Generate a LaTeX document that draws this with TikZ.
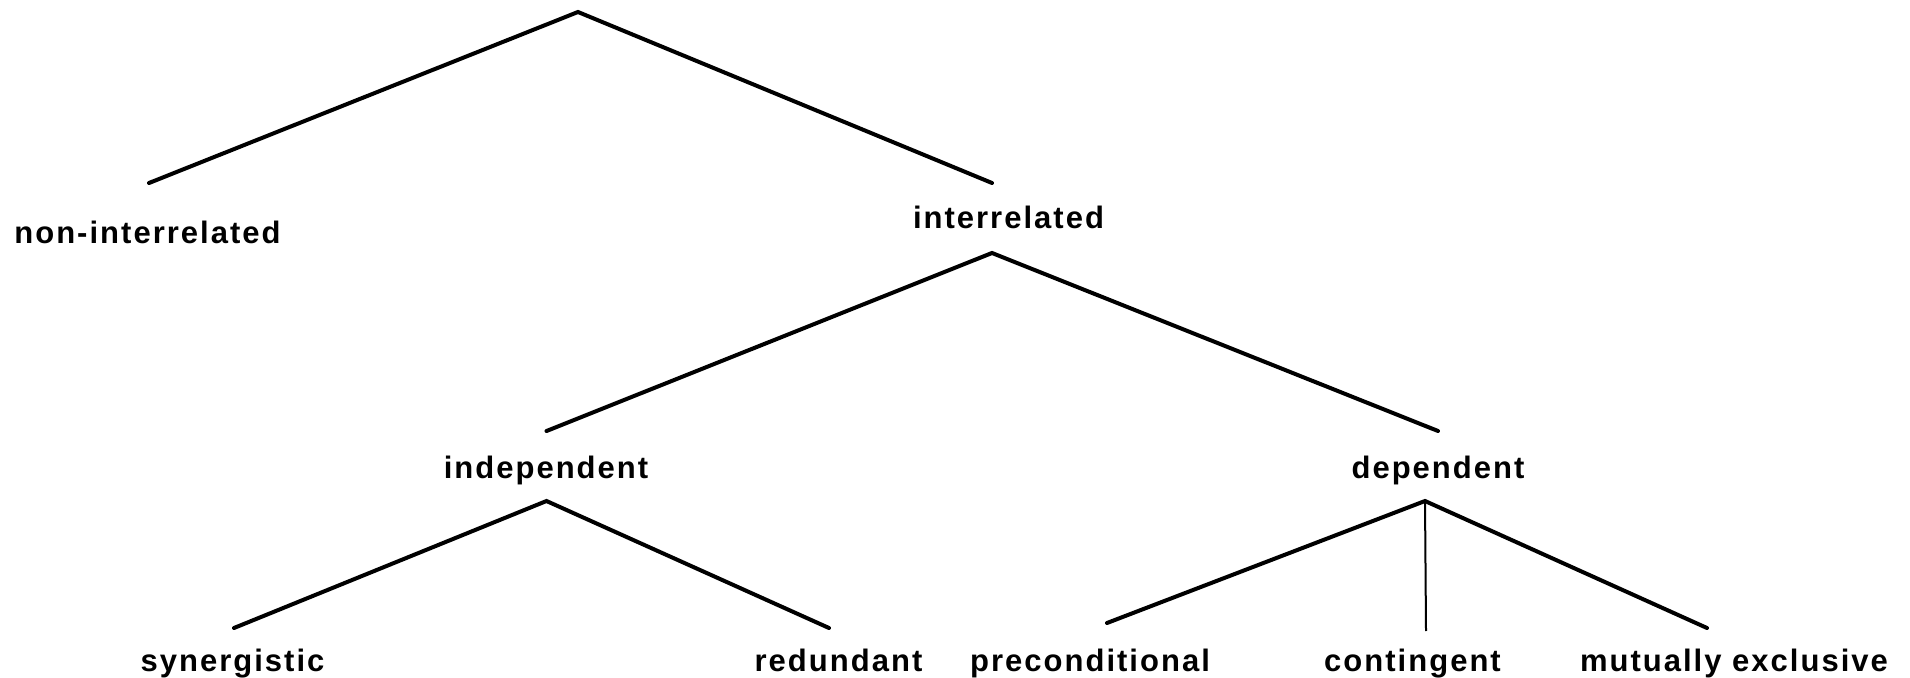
\documentclass[tikz,border=0pt]{standalone}
\usepackage{fontspec}
\newfontfamily\treefont[LetterSpace=6.5]{Liberation Sans}
\tikzset{
  lbl/.style={anchor=base,inner sep=0pt,font=\treefont\bfseries\fontsize{15.5}{18}\selectfont},
  branch/.style={line width=2pt,line cap=round},
  thinbranch/.style={line width=1pt}
}
\begin{document}
\begin{tikzpicture}[x=0.5pt,y=-0.5pt]
      \useasboundingbox (0,0) rectangle (1910,678);
      \draw
        (147.5,244) node[lbl] (nonint){non-interrelated}
        (1008.5,229) node[lbl] (inter){interrelated}
        (546,478) node[lbl] (indep){independent}
        (1438,478) node[lbl] (dep){dependent}
        (232.5,671) node[lbl] (syn){synergistic}
        (838.5,671) node[lbl] (red){redundant}
        (1090,671) node[lbl] (pre){preconditional}
        (1412.5,671) node[lbl] (cont){contingent}
        (1734,671) node[lbl] (mutex){mutually exclusive};
      \coordinate (root) at (578,12);
      \coordinate (nonintTop) at (149,183);
      \coordinate (interTop) at (992,183);
      \coordinate (interFork) at (992,253);
      \coordinate (indepTop) at (546.5,431);
      \coordinate (depTop) at (1438,431);
      \coordinate (indepFork) at (546.5,501);
      \coordinate (depFork) at (1425,501);
      \coordinate (synTop) at (234,628);
      \coordinate (redTop) at (829,628);
      \coordinate (preTop) at (1107,623);
      \coordinate (contTop) at (1426,631);
      \coordinate (mutexTop) at (1707,628);
      \begin{scope}[branch]
        \draw (nonintTop) -- (root) -- (interTop);
        \draw (indepTop) -- (interFork) -- (depTop);
        \draw (synTop) -- (indepFork) -- (redTop);
        \draw (preTop) -- (depFork) -- (mutexTop);
      \end{scope}
      \draw[thinbranch] (depFork) -- (contTop);
    \end{tikzpicture}
\end{document}
